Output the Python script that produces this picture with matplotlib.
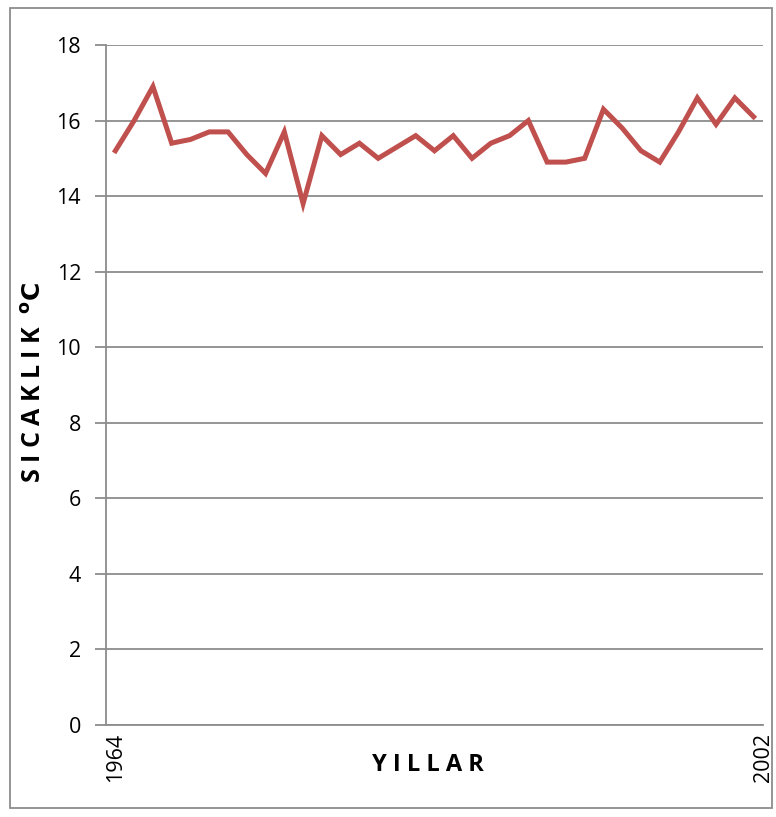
import matplotlib
matplotlib.use("Agg")
import matplotlib.pyplot as plt
from matplotlib.patches import Rectangle

# yearly mean temperature (35 values, first 1964, last 2002)
temps = [15.2, 16.0, 16.9, 15.4, 15.5, 15.7, 15.7, 15.1, 14.6, 15.7,
         13.8, 15.6, 15.1, 15.4, 15.0, 15.3, 15.6, 15.2, 15.6, 15.0,
         15.4, 15.6, 16.0, 14.9, 14.9, 15.0, 16.3, 15.8, 15.2, 14.9,
         15.7, 16.6, 15.9, 16.6, 16.1]
year_labels = ["1964", "2002"]
y_ticks = [0, 2, 4, 6, 8, 10, 12, 14, 16, 18]

plt.rcParams['font.family'] = ['Open Sans', 'DejaVu Sans']

fig = plt.figure(figsize=(7.76, 8.17), dpi=100)
ax = fig.add_axes([106/776, 1-725/817, (763-106)/776, (725-45)/817])

x = list(range(len(temps)))
ax.plot(x, temps, color='#C0504D', lw=3.6, solid_joinstyle='miter', zorder=3)

ax.set_xlim(-0.5, len(temps) - 0.5)
ax.set_ylim(0, 18)
ax.set_yticks(y_ticks)
ax.set_yticklabels([str(v) for v in y_ticks], fontsize=15.5)
ax.yaxis.grid(True, color='#8C8C8C', lw=1.3)
ax.set_axisbelow(True)

ax.set_xticks([0, len(temps) - 0.5])
ax.set_xticklabels(year_labels, rotation=90, fontsize=15.5)
ax.tick_params(axis='x', length=0, pad=6)
ax.tick_params(axis='y', length=8, width=1.3, color='#8C8C8C', pad=10)

for side in ['top', 'right']:
    ax.spines[side].set_visible(False)
for side in ['left', 'bottom']:
    ax.spines[side].set_color('#8C8C8C')
    ax.spines[side].set_linewidth(1.3)

fig.text(34/776, 1-383/817, r'S I C A K L I K  $\mathbf{^{o}C}$', rotation=90,
         fontsize=18, fontweight='bold', ha='center', va='center')
fig.text(428/776, 1-765/817, 'Y I L L A R', fontsize=17, fontweight='bold',
         ha='center', va='center')

fig.patches.append(Rectangle((10/776, 1-808/817), 762/776, 800/817,
                             transform=fig.transFigure, fill=False,
                             edgecolor='#8C8C8C', lw=1.3))

fig.savefig('out.png', dpi=100, facecolor='white')
